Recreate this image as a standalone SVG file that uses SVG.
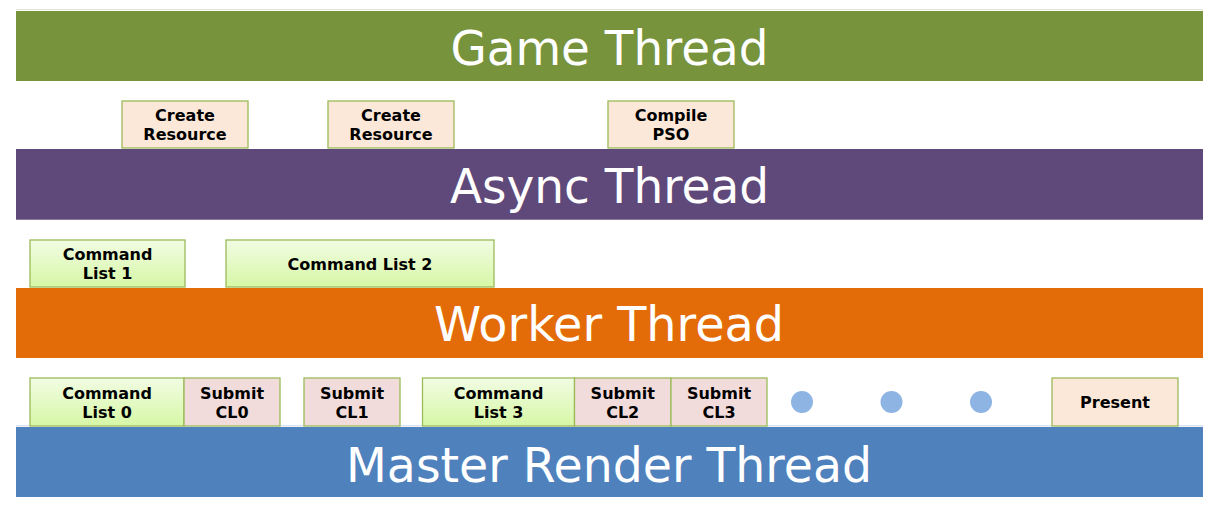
<svg xmlns="http://www.w3.org/2000/svg" width="1221" height="505" viewBox="0 0 1221 505">
<defs>
<linearGradient id="gCL" x1="0" y1="0" x2="0" y2="1">
<stop offset="0" stop-color="#F1FCE3"/>
<stop offset="1" stop-color="#D7F7A6"/>
</linearGradient>
</defs>
<style>
.title{font-family:"DejaVu Sans","Liberation Sans",sans-serif;font-size:48px;fill:#FFFFFF;text-anchor:middle}
.lbl{font-family:"DejaVu Sans","Liberation Sans",sans-serif;font-size:16px;font-weight:bold;fill:#000000;text-anchor:middle}
.peach{fill:#FCE8D8;stroke:#9BBB59;stroke-width:1.3}
.pink{fill:#F2DCDB;stroke:#9BBB59;stroke-width:1.3}
.cl{fill:url(#gCL);stroke:#9BBB59;stroke-width:1.3}
.dot{fill:#8EB4E3}
</style>
<rect width="1221" height="505" fill="#FFFFFF"/>

<g id="game-thread">
<line x1="16" y1="9.5" x2="1203" y2="9.5" stroke="#E3E3E3" stroke-width="1"/>
<rect x="16" y="11" width="1187" height="70" fill="#77933C"/>
<text class="title" x="609.5" y="65" textLength="318" lengthAdjust="spacingAndGlyphs">Game Thread</text>
</g>

<g id="async-thread">
<rect x="16" y="149" width="1187" height="70" fill="#5F497A"/>
<line x1="16" y1="219.5" x2="1203" y2="219.5" stroke="#8C7AA3" stroke-width="1"/>
<text class="title" x="609.5" y="203" textLength="319" lengthAdjust="spacingAndGlyphs">Async Thread</text>
</g>

<g id="worker-thread">
<rect x="16" y="288" width="1187" height="70" fill="#E36C09"/>
<text class="title" x="609" y="341" textLength="350" lengthAdjust="spacingAndGlyphs">Worker Thread</text>
</g>

<g id="master-render-thread">
<line x1="16" y1="425.8" x2="1203" y2="425.8" stroke="#C9D6EA" stroke-width="1"/>
<rect x="16" y="427" width="1187" height="70" fill="#4F81BD"/>
<text class="title" x="609" y="482" textLength="526" lengthAdjust="spacingAndGlyphs">Master Render Thread</text>
</g>

<g id="create-resource-1">
<rect class="peach" x="122" y="101" width="126" height="47"/>
<text class="lbl" x="185" y="121">Create</text>
<text class="lbl" x="185" y="140">Resource</text>
</g>
<g id="create-resource-2">
<rect class="peach" x="328" y="101" width="126" height="47"/>
<text class="lbl" x="391" y="121">Create</text>
<text class="lbl" x="391" y="140">Resource</text>
</g>
<g id="compile-pso">
<rect class="peach" x="608" y="101" width="126" height="47"/>
<text class="lbl" x="671" y="121">Compile</text>
<text class="lbl" x="671" y="140">PSO</text>
</g>

<g id="command-list-1">
<rect class="cl" x="30" y="240" width="155" height="47"/>
<text class="lbl" x="107.5" y="260">Command</text>
<text class="lbl" x="107.5" y="278.5">List 1</text>
</g>
<g id="command-list-2">
<rect class="cl" x="226" y="240" width="268" height="47"/>
<text class="lbl" x="360" y="270">Command List 2</text>
</g>

<g id="command-list-0">
<rect class="cl" x="30" y="378" width="154" height="48"/>
<text class="lbl" x="107" y="399">Command</text>
<text class="lbl" x="107" y="417.5">List 0</text>
</g>
<g id="submit-cl0">
<rect class="pink" x="184" y="378" width="96" height="48"/>
<text class="lbl" x="232" y="399">Submit</text>
<text class="lbl" x="232" y="417.5">CL0</text>
</g>
<g id="submit-cl1">
<rect class="pink" x="304" y="378" width="96" height="48"/>
<text class="lbl" x="352" y="399">Submit</text>
<text class="lbl" x="352" y="417.5">CL1</text>
</g>
<g id="command-list-3">
<rect class="cl" x="422.5" y="378" width="152" height="48"/>
<text class="lbl" x="498.5" y="399">Command</text>
<text class="lbl" x="498.5" y="417.5">List 3</text>
</g>
<g id="submit-cl2">
<rect class="pink" x="574.5" y="378" width="96.5" height="48"/>
<text class="lbl" x="622.7" y="399">Submit</text>
<text class="lbl" x="622.7" y="417.5">CL2</text>
</g>
<g id="submit-cl3">
<rect class="pink" x="671" y="378" width="96" height="48"/>
<text class="lbl" x="719" y="399">Submit</text>
<text class="lbl" x="719" y="417.5">CL3</text>
</g>
<g id="ellipsis">
<circle class="dot" cx="802" cy="402" r="11"/>
<circle class="dot" cx="891.5" cy="402" r="11"/>
<circle class="dot" cx="981" cy="402" r="11"/>
</g>
<g id="present">
<rect class="peach" x="1052" y="378" width="126" height="48"/>
<text class="lbl" x="1115" y="408">Present</text>
</g>
<g id="connectors"/>
</svg>
